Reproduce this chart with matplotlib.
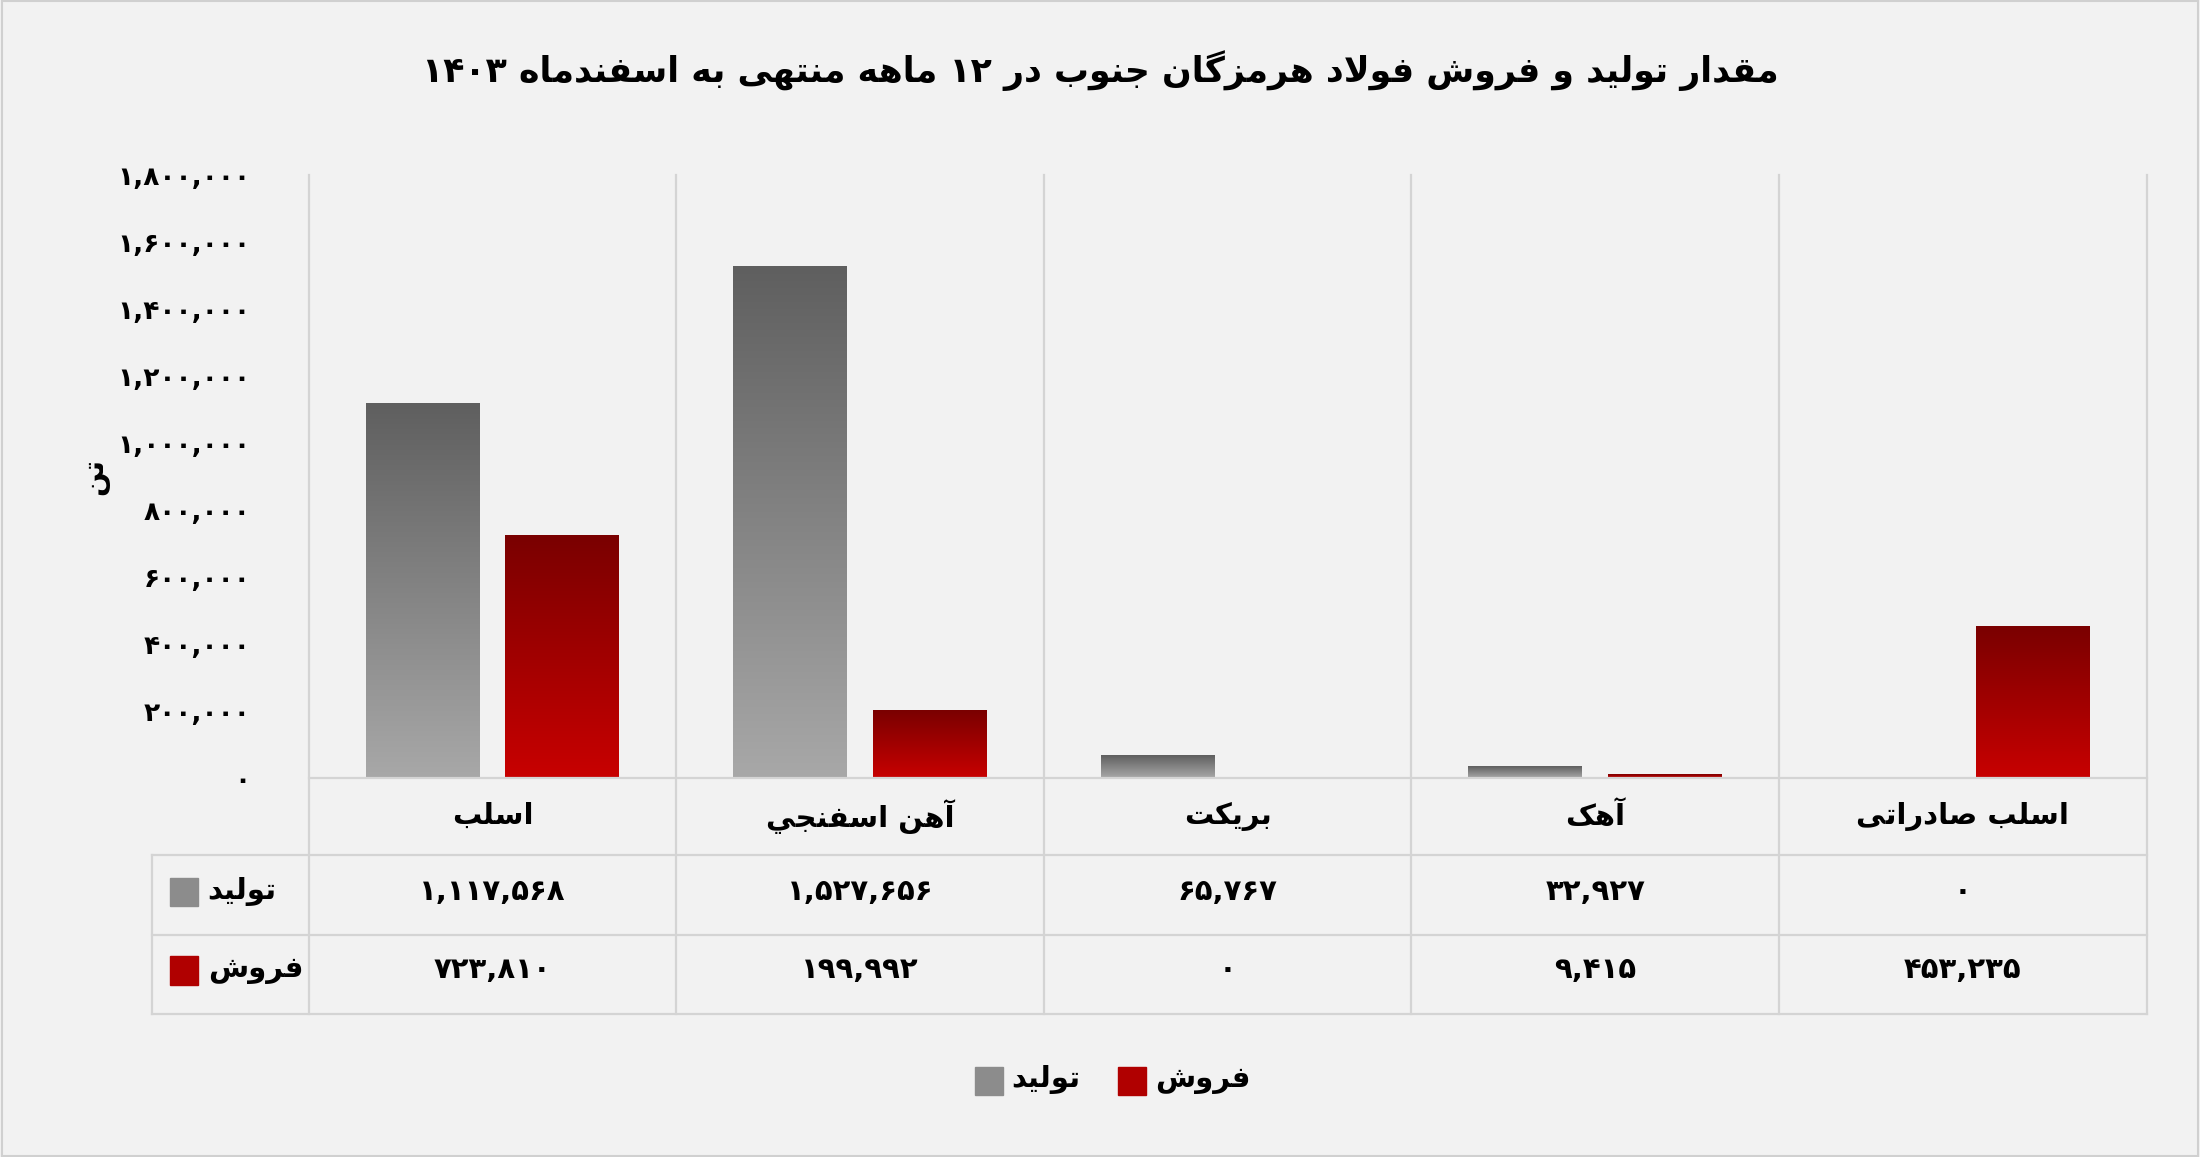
import matplotlib
matplotlib.use("Agg")
import matplotlib.pyplot as plt
import numpy as np
from matplotlib.lines import Line2D
from matplotlib.patches import Rectangle

categories = ["اسلب", "آهن اسفنجي", "بریکت", "آهک", "اسلب صادراتی"]
production = [1117568, 1527656, 65767, 32927, 0]
sales = [723810, 199992, 0, 9415, 453235]
series_names = ["تولید", "فروش"]
yticks = [0, 200000, 400000, 600000, 800000, 1000000, 1200000, 1400000, 1600000, 1800000]
title = "مقدار تولید و فروش فولاد هرمزگان جنوب در ۱۲ ماهه منتهی به اسفندماه ۱۴۰۳"
ylabel = "تن"

# --- minimal Arabic/Persian shaping ---
FORMS = {  # iso, fin, ini, med
    'ا': (0xFE8D, 0xFE8E), 'آ': (0xFE81, 0xFE82), 'د': (0xFEA9, 0xFEAA),
    'ر': (0xFEAD, 0xFEAE), 'ز': (0xFEAF, 0xFEB0), 'و': (0xFEED, 0xFEEE),
    'ب': (0xFE8F, 0xFE90, 0xFE91, 0xFE92), 'ت': (0xFE95, 0xFE96, 0xFE97, 0xFE98),
    'ج': (0xFE9D, 0xFE9E, 0xFE9F, 0xFEA0), 'س': (0xFEB1, 0xFEB2, 0xFEB3, 0xFEB4),
    'ش': (0xFEB5, 0xFEB6, 0xFEB7, 0xFEB8), 'ص': (0xFEB9, 0xFEBA, 0xFEBB, 0xFEBC),
    'ف': (0xFED1, 0xFED2, 0xFED3, 0xFED4), 'ق': (0xFED5, 0xFED6, 0xFED7, 0xFED8),
    'ل': (0xFEDD, 0xFEDE, 0xFEDF, 0xFEE0), 'م': (0xFEE1, 0xFEE2, 0xFEE3, 0xFEE4),
    'ن': (0xFEE5, 0xFEE6, 0xFEE7, 0xFEE8), 'ه': (0xFEE9, 0xFEEA, 0xFEEB, 0xFEEC),
    'ي': (0xFEF1, 0xFEF2, 0xFEF3, 0xFEF4), 'ی': (0xFBFC, 0xFBFD, 0xFBFE, 0xFBFF),
    'ک': (0xFB8E, 0xFB8F, 0xFB90, 0xFB91), 'گ': (0xFB92, 0xFB93, 0xFB94, 0xFB95),
    'LA': (0xFEFB, 0xFEFC),
}

def shape(s):
    chars = []
    i = 0
    while i < len(s):
        if s[i] == 'ل' and i + 1 < len(s) and s[i + 1] in 'اآ':
            chars.append('LA'); i += 2
        else:
            chars.append(s[i]); i += 1
    out = []
    for k, c in enumerate(chars):
        if c not in FORMS:
            out.append(c); continue
        f = FORMS[c]
        prev = chars[k - 1] if k > 0 else None
        nxt = chars[k + 1] if k + 1 < len(chars) else None
        jp = prev in FORMS and len(FORMS[prev]) == 4
        jn = nxt in FORMS and len(f) == 4
        if jp and jn: out.append(chr(f[3]))
        elif jp: out.append(chr(f[1]))
        elif jn: out.append(chr(f[2]))
        else: out.append(chr(f[0]))
    return ''.join(out)

DIG = set('۰۱۲۳۴۵۶۷۸۹0123456789,')

def fa(s):
    s = shape(s)
    runs = []
    for ch in s:
        d = ch in DIG
        if runs and runs[-1][0] == d:
            runs[-1][1] += ch
        else:
            runs.append([d, ch])
    return ''.join(r if d else r[::-1] for d, r in reversed(runs))

def fnum(v):
    t = f"{v:,}"
    return t.translate(str.maketrans('0123456789', '۰۱۲۳۴۵۶۷۸۹'))

plt.rcParams['font.family'] = ['DejaVu Sans']
W, H = 1568, 825
fig = plt.figure(figsize=(22, 11.57), dpi=100)
fig.patch.set_facecolor('#f2f2f2')

def fx(x): return x / W
def fy(y): return 1 - y / H

ax = fig.add_axes([fx(220), fy(555), fx(1530) - fx(220), fy(125) - fy(555)])
ax.set_facecolor('none')
for s in ax.spines.values():
    s.set_visible(False)
ax.set_xticks([])
ax.set_yticks(yticks)
ax.set_yticklabels([fnum(v) for v in yticks], fontsize=19, fontweight='bold')
ax.tick_params(axis='y', length=0, pad=42)

def grad_bar(x, w, h, top, bot):
    if h <= 0:
        return
    cm = matplotlib.colors.LinearSegmentedColormap.from_list('g', [bot, top])
    g = np.linspace(0, 1, 256).reshape(-1, 1)
    ax.imshow(g, cmap=cm, origin='lower', extent=[x - w / 2, x + w / 2, 0, h],
              aspect='auto', zorder=3)

bw = 0.31
for i in range(5):
    grad_bar(i + 0.5 - 0.19, bw, production[i], '#5f5f5f', '#a8a8a8')
    grad_bar(i + 0.5 + 0.19, bw, sales[i], '#7a0000', '#c80000')
ax.set_xlim(0, 5)
ax.set_ylim(0, 1800000)

lc = '#d4d4d4'
def fl(x1, y1, x2, y2):
    fig.add_artist(Line2D([fx(x1), fx(x2)], [fy(y1), fy(y2)], color=lc, lw=1.6))

xs = [220, 482, 744, 1006, 1268, 1530]
for x in xs:
    fl(x, 125, x, 723)
fl(108, 610, 108, 723)
fl(220, 555, 1530, 555)
for y in (610, 667, 723):
    fl(108, y, 1530, y)

cell_fs = 21
for i in range(5):
    cx = (xs[i] + xs[i + 1]) / 2
    fig.text(fx(cx), fy(582), fa(categories[i]), ha='center', va='center', fontsize=cell_fs, fontweight='bold')
    fig.text(fx(cx), fy(636), fnum(production[i]), ha='center', va='center', fontsize=cell_fs, fontweight='bold')
    fig.text(fx(cx), fy(692), fnum(sales[i]), ha='center', va='center', fontsize=cell_fs, fontweight='bold')

row_cols = ['#8c8c8c', '#b00000']
for j, (yy, nm) in enumerate(((636, series_names[0]), (692, series_names[1]))):
    fig.add_artist(Rectangle((fx(121), fy(yy + 10)), fx(20), fy(yy - 10) - fy(yy + 10),
                             color=row_cols[j], transform=fig.transFigure))
    fig.text(fx(148), fy(yy), fa(nm), ha='left', va='center', fontsize=cell_fs, fontweight='bold')

# legend
fig.add_artist(Rectangle((fx(695), fy(781)), fx(20), fy(761) - fy(781), color=row_cols[0], transform=fig.transFigure))
fig.text(fx(721), fy(770), fa(series_names[0]), ha='left', va='center', fontsize=cell_fs, fontweight='bold')
fig.add_artist(Rectangle((fx(797), fy(781)), fx(20), fy(761) - fy(781), color=row_cols[1], transform=fig.transFigure))
fig.text(fx(823), fy(770), fa(series_names[1]), ha='left', va='center', fontsize=cell_fs, fontweight='bold')

fig.text(fx(784), fy(50), fa(title), ha='center', va='center', fontsize=25, fontweight='bold')
fig.text(fx(68), fy(340), fa(ylabel), ha='center', va='center', fontsize=21, fontweight='bold', rotation=90)

fig.add_artist(Rectangle((0.001, 0.001), 0.998, 0.998, fill=False, ec='#d0d0d0', lw=1.5, transform=fig.transFigure))
fig.savefig('out.png', dpi=100, facecolor=fig.get_facecolor())
